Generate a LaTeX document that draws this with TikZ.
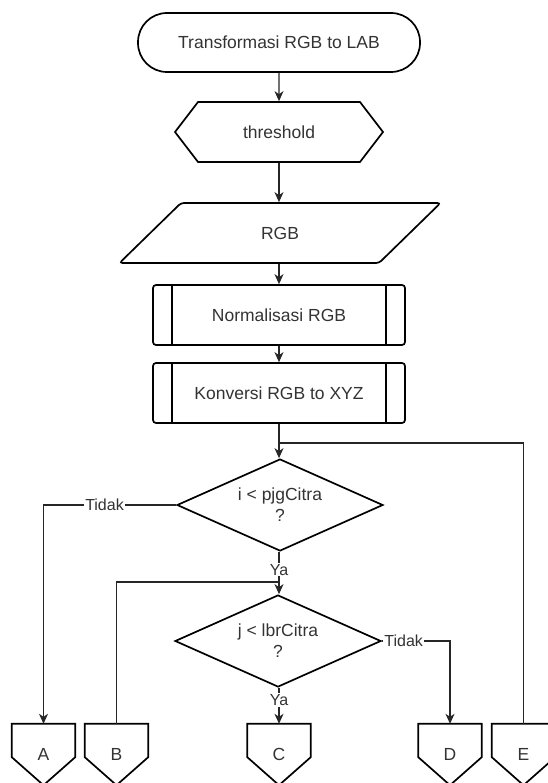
\documentclass[tikz,border=0pt]{standalone}
\usepackage{fontspec}
\setmainfont{Liberation Sans}
\usetikzlibrary{shapes,arrows.meta,positioning}

\definecolor{txtgray}{HTML}{333333}

\begin{document}
\begin{tikzpicture}[
  x=1pt, y=-1pt,
  every node/.style={text=txtgray, font=\fontsize{17.5}{21}\selectfont},
  shp/.style={draw=black, line width=1.7pt},
  terminal/.style={shp, rectangle, rounded corners=29pt,
    minimum width=282pt, minimum height=59pt},
  prep/.style={shp, signal, signal to=east and west, signal pointer angle=105,
    minimum width=208pt, minimum height=60pt, inner sep=0pt},
  io/.style={shp, trapezium, trapezium left angle=54, trapezium right angle=126,
    trapezium stretches=true, minimum width=322pt, minimum height=60pt,
    rounded corners=3pt},
  proc/.style={shp, rectangle, rounded corners=3pt,
    minimum width=252pt, minimum height=60pt},
  cond/.style={shp, diamond, aspect=2.24, minimum width=206pt,
    minimum height=92pt, inner sep=0pt, align=center},
  offpage/.style={rectangle, minimum width=63pt, minimum height=61pt,
    inner sep=0pt},
  line/.style={draw=black!85, line width=1.2pt},
  arr/.style={line, -{Stealth[length=10pt, width=9pt, inset=3pt]}},
  lbl/.style={fill=white, inner sep=1pt, font=\fontsize{16}{18}\selectfont},
]
\useasboundingbox (0,0) rectangle (547,783);

% main column
\node[terminal] (start) at (279,42.5) {Transformasi RGB to LAB};
\node[prep] (thr) at (279,132) {threshold};
\node[io] (rgb) at (280,233) {RGB};
\node[proc] (norm) at (279,315) {Normalisasi RGB};
\node[proc] (konv) at (279,393) {Konversi RGB to XYZ};
\node[cond] (c1) at (280,505) {i < pjgCitra\\?};
\node[cond] (c2) at (278,641) {j < lbrCitra\\?};

% inner bars of the process boxes
\foreach \n in {norm,konv}{
  \draw[shp] ([xshift=20pt]\n.north west) -- ([xshift=20pt]\n.south west);
  \draw[shp] ([xshift=-20pt]\n.north east) -- ([xshift=-20pt]\n.south east);
}

% off-page connectors
\node[offpage] (offA) at (43.5,754.5) {A};
\node[offpage] (offB) at (116.5,754.5) {B};
\node[offpage] (offC) at (279,754.5) {C};
\node[offpage] (offD) at (450,754.5) {D};
\node[offpage] (offE) at (523.5,754.5) {E};
\foreach \n in {offA,offB,offC,offD,offE}{
  \draw[shp] (\n.north west) -- (\n.north east) -- ([yshift=28pt]\n.south east)
    -- (\n.south) -- ([yshift=28pt]\n.south west) -- cycle;
}

\coordinate (loopE) at (279,443);
\coordinate (loopB) at (279,582);

% connectors
\draw[arr] (start) -- (thr);
\draw[arr] (thr.south) -- (thr.south |- rgb.north);
\draw[arr] (norm.north |- rgb.south) -- (norm.north);
\draw[arr] (norm) -- (konv);
\draw[arr] (konv.south) -- (konv.south |- c1.north);
\draw[line] (offE.north) |- (loopE);
\draw[arr] (c1.west) -| node[lbl, pos=0.27] {Tidak} (offA.north);
\draw[arr] (c1.south -| loopB) -- node[lbl, pos=0.42] {Ya} (loopB |- c2.north);
\draw[line] (offB.north) |- (loopB);
\draw[arr] (c2.south -| offC) -- node[lbl, pos=0.34] {Ya} (offC.north);
\draw[arr] (c2.east) -| node[lbl, pos=0.16] {Tidak} (offD.north);
\end{tikzpicture}
\end{document}
